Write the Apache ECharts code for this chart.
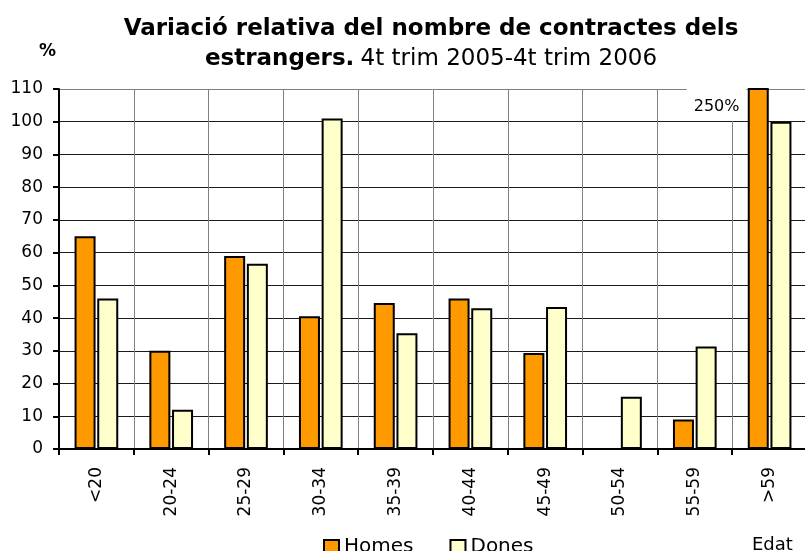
<!DOCTYPE html>
<html>
<head>
<meta charset="utf-8">
<script src="https://cdn.jsdelivr.net/npm/echarts@6/dist/echarts.min.js"></script>
<style>
  html, body { margin: 0; padding: 0; background: #fff; }
  #chart { width: 805px; height: 551px; }
</style>
</head>
<body>
<div id="chart"></div>
<script>
// dades llegides del gràfic
var edats = ['<20', '20-24', '25-29', '30-34', '35-39', '40-44', '45-49', '50-54', '55-59', '>59'];
var homes = [65, 30, 59, 40.6, 44.6, 46, 29.3, 0, 9, 250];
var dones = [46, 12, 56.6, 101, 35.4, 43, 43.4, 16, 31.3, 100];
var yTicks = [0, 10, 20, 30, 40, 50, 60, 70, 80, 90, 100, 110];

var FONT = '"DejaVu Sans", Arial, sans-serif';

var chart = echarts.init(document.getElementById('chart'), null, { renderer: 'canvas' });

// l'última barra d'homes surt de l'escala: etiqueta 250%
var homesData = homes.map(function (v) {
  if (v > yTicks[yTicks.length - 1]) {
    return {
      value: v,
      label: {
        show: true,
        position: [-61, 1],
        formatter: v + '%',
        backgroundColor: '#fff',
        padding: [9, 7, 5, 7],
        fontSize: 16,
        lineHeight: 18,
        color: '#000',
        fontFamily: FONT
      }
    };
  }
  return v;
});

var gridLineColors = yTicks.map(function (t, i) {
  return i === yTicks.length - 1 ? '#808080' : '#1a1a1a';
});

var option = {
  animation: false,
  textStyle: { fontFamily: FONT, color: '#000' },
  title: [
    {
      text: '{b|Variació relativa del nombre de contractes dels}\n{b|estrangers.} {n|4t trim 2005-4t trim 2006}',
      left: 426,
      top: 9,
      textAlign: 'center',
      textStyle: {
        rich: {
          b: { fontSize: 23, fontWeight: 'bold', color: '#000', lineHeight: 30, fontFamily: FONT },
          n: { fontSize: 23, fontWeight: 'normal', color: '#000', lineHeight: 30, fontFamily: FONT }
        }
      }
    },
    {
      text: '%',
      left: 34,
      top: 38,
      textStyle: { fontSize: 17, fontWeight: 'bold', color: '#000', fontFamily: FONT }
    },
    {
      text: 'Edat',
      left: 747,
      top: 531,
      textStyle: { fontSize: 18, fontWeight: 'normal', color: '#000', fontFamily: FONT }
    }
  ],
  legend: {
    left: 318,
    top: 532,
    itemWidth: 15,
    itemHeight: 14,
    itemGap: 36,
    icon: 'rect',
    itemStyle: { borderColor: '#000', borderWidth: 2 },
    textStyle: { fontSize: 20, color: '#000', fontFamily: FONT },
    data: ['Homes', 'Dones']
  },
  grid: {
    left: 59,
    top: 89,
    width: 748,
    height: 360,
    outerBoundsMode: 'none',
    containLabel: false
  },
  xAxis: {
    type: 'category',
    data: edats,
    axisLine: { lineStyle: { color: '#000', width: 2 } },
    axisTick: { show: true, length: 6, lineStyle: { color: '#000', width: 2 } },
    axisLabel: { rotate: 90, fontSize: 17, color: '#000', margin: 18, interval: 0, fontFamily: FONT },
    splitLine: { show: true, lineStyle: { color: '#808080', width: 1 } }
  },
  yAxis: {
    type: 'value',
    min: 0,
    max: 110,
    interval: 10,
    axisLine: { show: true, lineStyle: { color: '#000', width: 2 } },
    axisTick: { show: true, length: 6, lineStyle: { color: '#000', width: 2 } },
    axisLabel: { fontSize: 17, color: '#000', margin: 16, fontFamily: FONT },
    splitLine: { show: true, lineStyle: { color: gridLineColors, width: 1 } }
  },
  series: [
    {
      name: 'Homes',
      type: 'bar',
      data: homesData,
      barWidth: 21,
      barGap: '8%',
      clip: true,
      itemStyle: { color: '#FF9900', borderColor: '#000', borderWidth: 2 }
    },
    {
      name: 'Dones',
      type: 'bar',
      data: dones,
      barWidth: 21,
      clip: true,
      itemStyle: { color: '#FFFFCC', borderColor: '#000', borderWidth: 2 }
    }
  ]
};

chart.setOption(option);
</script>
</body>
</html>
